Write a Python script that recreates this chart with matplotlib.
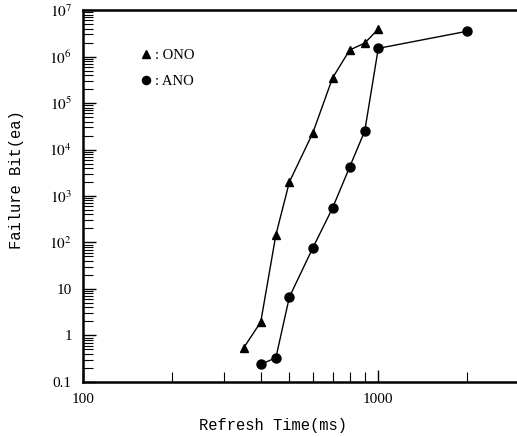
import matplotlib
matplotlib.use('Agg')
import matplotlib.pyplot as plt
from matplotlib.ticker import FixedLocator, FixedFormatter, LogLocator, NullFormatter

# 数据
ono_time = [350, 400, 450, 500, 600, 700, 800, 900, 1000]
ono_fail = [0.54, 1.95, 145, 2000, 22600, 345000, 1.38e6, 1.95e6, 3.9e6]

ano_time = [400, 450, 500, 600, 700, 800, 900, 1000, 2000]
ano_fail = [0.24, 0.33, 6.7, 76, 550, 4200, 25000, 1.5e6, 3.5e6]

y_ticks = [0.1, 1, 10, 1e2, 1e3, 1e4, 1e5, 1e6, 1e7]
y_labels = ['0.1', '1', '10', r'$10^2$', r'$10^3$', r'$10^4$', r'$10^5$', r'$10^6$', r'$10^7$']
x_ticks = [100, 1000]
x_labels = ['100', '1000']

plt.rcParams['font.family'] = ['Liberation Serif', 'DejaVu Serif']
plt.rcParams['mathtext.fontset'] = 'stix'

fig = plt.figure(figsize=(5.17, 4.37), dpi=100)
ax = fig.add_axes([0.1605, 0.126, 0.8395, 0.851])

ax.plot(ono_time, ono_fail, color='black', lw=1.0, marker='^', ms=6, label=': ONO')
ax.plot(ano_time, ano_fail, color='black', lw=1.0, marker='o', ms=6.5, label=': ANO')

ax.set_xscale('log')
ax.set_yscale('log')
ax.set_xlim(100, 2950)
ax.set_ylim(0.1, 1e7)

ax.xaxis.set_major_locator(FixedLocator(x_ticks))
ax.xaxis.set_major_formatter(FixedFormatter(x_labels))
ax.xaxis.set_minor_locator(LogLocator(base=10, subs=range(2, 10), numticks=20))
ax.xaxis.set_minor_formatter(NullFormatter())
ax.yaxis.set_major_locator(FixedLocator(y_ticks))
ax.yaxis.set_major_formatter(FixedFormatter(y_labels))
ax.yaxis.set_minor_locator(LogLocator(base=10, subs=range(2, 10), numticks=20))
ax.yaxis.set_minor_formatter(NullFormatter())

ax.tick_params(which='major', direction='in', length=9, width=1, labelsize=11, pad=8)
ax.tick_params(which='minor', direction='in', length=7, width=0.8)
ax.tick_params(axis='x', which='both', top=False)
ax.tick_params(axis='y', which='both', right=False)

for s in ['left', 'bottom', 'top']:
    ax.spines[s].set_linewidth(1.8)
ax.spines['right'].set_visible(False)

mono = ['Liberation Mono', 'DejaVu Sans Mono']
ax.set_xlabel('Refresh Time(ms)', family=mono, fontsize=11.2, labelpad=10)
ax.xaxis.set_label_coords(0.438, -0.098)
ax.set_ylabel('Failure Bit(ea)', family=mono, fontsize=11.2, labelpad=14)
ax.yaxis.set_label_coords(-0.137, 0.543)

leg = ax.legend(loc='upper left', bbox_to_anchor=(0.115, 0.93), frameon=False, handlelength=0,
                handletextpad=0.6, labelspacing=0.85, fontsize=10.5, markerscale=0.9)

fig.savefig('out.png', dpi=100)
